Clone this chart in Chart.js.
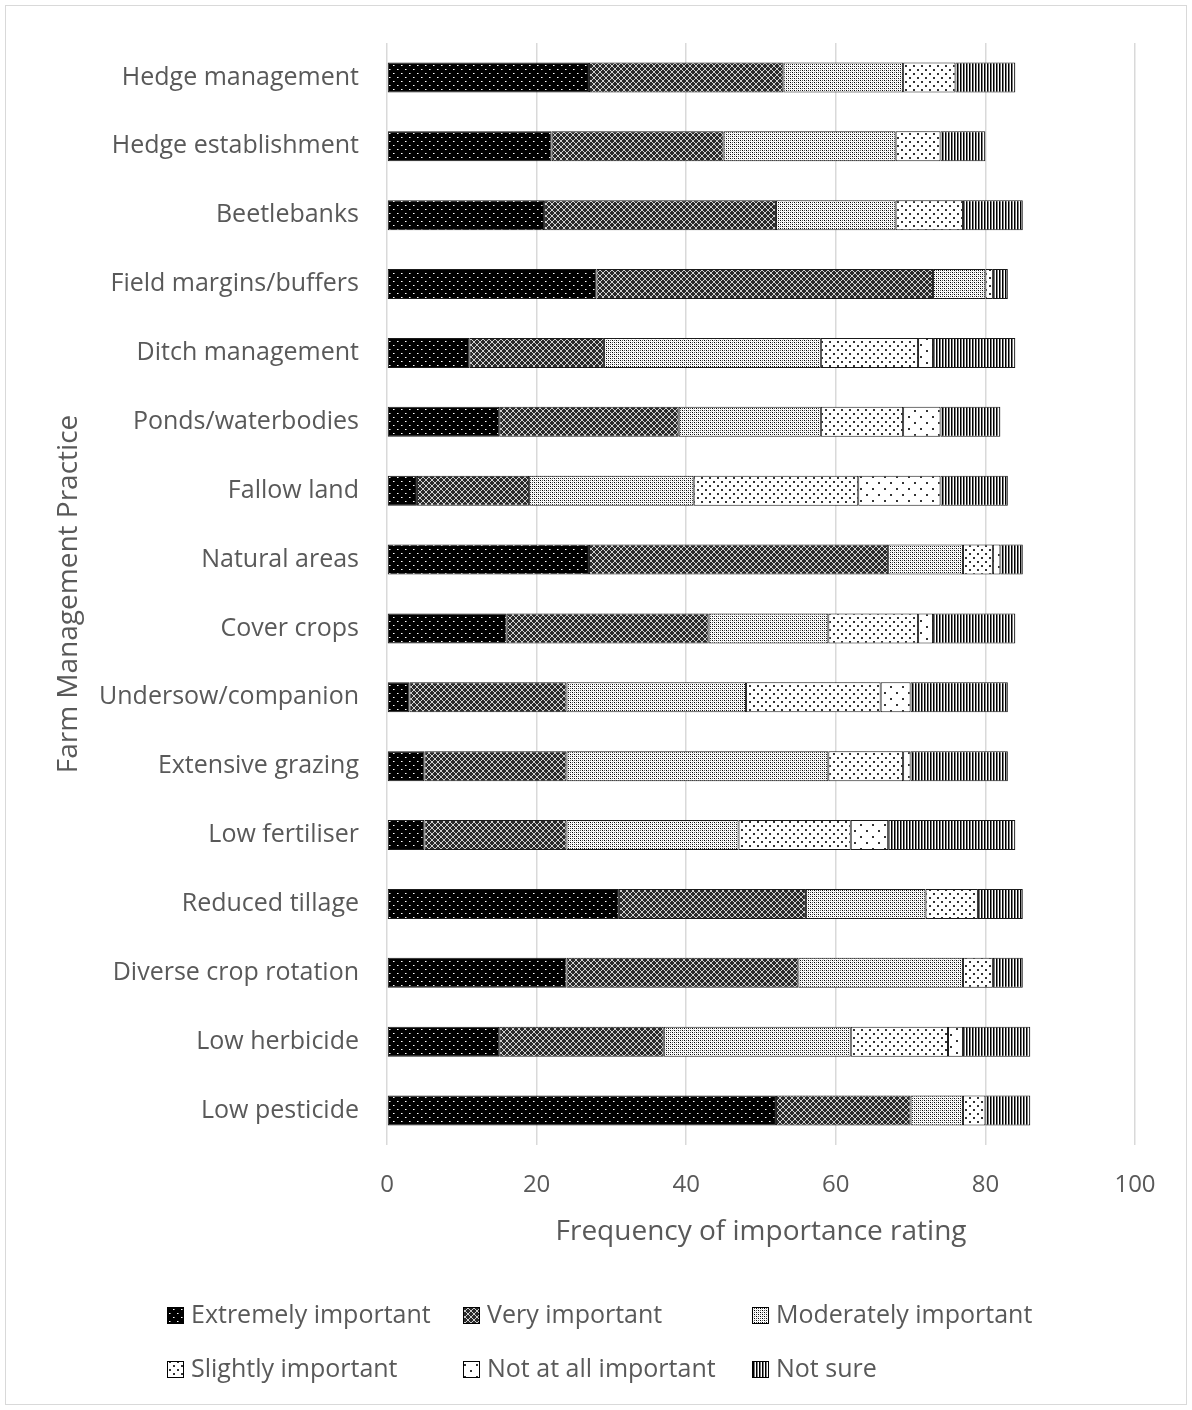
<!DOCTYPE html>
<html>
<head>
<meta charset="utf-8">
<script src="https://cdn.jsdelivr.net/npm/chart.js@4.4.1/dist/chart.umd.min.js"></script>
<style>
  html, body { margin: 0; padding: 0; background: #ffffff; }
  #wrap { position: relative; width: 1192px; height: 1410px; }
  canvas { display: block; }
</style>
</head>
<body>
<div id="wrap"><canvas id="c" width="1192" height="1410"></canvas></div>
<script>
// ---------- data ----------
const categories = ["Hedge management","Hedge establishment","Beetlebanks","Field margins/buffers","Ditch management","Ponds/waterbodies","Fallow land","Natural areas","Cover crops","Undersow/companion","Extensive grazing","Low fertiliser","Reduced tillage","Diverse crop rotation","Low herbicide","Low pesticide"];
const seriesNames = ["Extremely important","Very important","Moderately important","Slightly important","Not at all important","Not sure"];
const extremelyImportant = [27,22,21,28,11,15,4,27,16,3,5,5,31,24,15,52];
const veryImportant      = [26,23,31,45,18,24,15,40,27,21,19,19,25,31,22,18];
const moderatelyImportant= [16,23,16,7,29,19,22,10,16,24,35,23,16,22,25,7];
const slightlyImportant  = [7,6,9,1,13,11,22,4,12,18,10,15,7,4,13,3];
const notAtAllImportant  = [0,0,0,0,2,5,11,1,2,4,1,5,0,0,2,0];
const notSure            = [8,6,8,2,11,8,9,3,11,13,13,17,6,4,9,6];
const xTicks = [0,20,40,60,80,100];
const xTitle = "Frequency of importance rating";
const yTitle = "Farm Management Practice";

// ---------- patterns ----------
function makePattern(size, draw) {
  const c = document.createElement('canvas');
  c.width = size; c.height = size;
  const g = c.getContext('2d');
  draw(g, size);
  return document.getElementById('c').getContext('2d').createPattern(c, 'repeat');
}
const patExtremely = makePattern(8, (g) => {
  g.fillStyle = '#000'; g.fillRect(0,0,8,8);
  g.fillStyle = '#fff'; g.fillRect(1,1,1,1); g.fillRect(5,5,1,1);
  g.fillStyle = '#888'; g.fillRect(2,1,1,1); g.fillRect(6,5,1,1);
});
const patVery = makePattern(6, (g) => {
  g.fillStyle = '#2a2a2a'; g.fillRect(0,0,6,6);
  g.fillStyle = '#d0d0d0';
  for (let i = 0; i < 6; i++) { g.fillRect(i,i,1,1); g.fillRect(5-i,i,1,1); }
});
const patModerately = makePattern(4, (g) => {
  g.fillStyle = '#fff'; g.fillRect(0,0,4,4);
  g.fillStyle = '#000'; g.fillRect(0,0,1,1); g.fillRect(2,2,1,1);
  g.fillStyle = '#555'; g.fillRect(2,0,1,1); g.fillRect(0,2,1,1);
  g.fillStyle = '#ddd'; g.fillRect(1,1,1,1); g.fillRect(3,3,1,1);
});
const patSlightly = makePattern(8, (g) => {
  g.fillStyle = '#fff'; g.fillRect(0,0,8,8);
  g.fillStyle = '#333'; g.fillRect(1,1,2,2); g.fillRect(5,5,2,2);
});
const patNotAtAll = makePattern(12, (g) => {
  g.fillStyle = '#fff'; g.fillRect(0,0,12,12);
  g.fillStyle = '#333'; g.fillRect(2,2,2,2); g.fillRect(8,8,2,2);
});
const patNotSure = makePattern(3, (g) => {
  g.fillStyle = '#fff'; g.fillRect(0,0,3,3);
  g.fillStyle = '#000'; g.fillRect(0,0,1,3);
  g.fillStyle = '#7a7a7a'; g.fillRect(1,0,1,3);
});
const patterns = [patExtremely, patVery, patModerately, patSlightly, patNotAtAll, patNotSure];
const seriesData = [extremelyImportant, veryImportant, moderatelyImportant, slightlyImportant, notAtAllImportant, notSure];

const FONT = "'Open Sans', 'DejaVu Sans', sans-serif";
const TEXT = '#595959';
Chart.defaults.font.family = FONT;
Chart.defaults.color = TEXT;

// ---------- plugins ----------
const frame = {
  id: 'frame',
  beforeDraw(chart) {
    const ctx = chart.ctx;
    ctx.save();
    ctx.fillStyle = '#fff';
    ctx.fillRect(0,0,chart.width,chart.height);
    ctx.strokeStyle = '#d9d9d9';
    ctx.lineWidth = 1;
    ctx.strokeRect(5.5, 5.5, chart.width - 11, chart.height - 11);
    ctx.restore();
  }
};
const gridLegend = {
  id: 'gridLegend',
  afterDraw(chart) {
    const ctx = chart.ctx;
    const cols = [167, 463, 752];
    const rows = [1315, 1369];
    ctx.save();
    ctx.font = '25px ' + FONT;
    ctx.textBaseline = 'middle';
    ctx.textAlign = 'left';
    chart.data.datasets.forEach((ds, i) => {
      const x = cols[i % 3], y = rows[Math.floor(i / 3)];
      ctx.fillStyle = ds.backgroundColor;
      ctx.fillRect(x, y - 8, 17, 17);
      ctx.strokeStyle = '#000';
      ctx.lineWidth = 1;
      ctx.strokeRect(x + 0.5, y - 7.5, 16, 16);
      ctx.fillStyle = TEXT;
      ctx.fillText(ds.label, x + 24, y + 1);
    });
    ctx.restore();
  }
};

new Chart(document.getElementById('c'), {
  type: 'bar',
  data: {
    labels: categories,
    datasets: seriesNames.map((name, i) => ({
      label: name,
      data: seriesData[i],
      backgroundColor: patterns[i],
      borderColor: '#1a1a1a',
      borderWidth: 1,
      borderSkipped: false,
      barPercentage: 0.435,
      categoryPercentage: 1
    }))
  },
  options: {
    indexAxis: 'y',
    responsive: false,
    animation: false,
    events: [],
    layout: { padding: { top: 41, right: 57, bottom: 150, left: 0 } },
    plugins: { legend: { display: false }, tooltip: { enabled: false } },
    scales: {
      x: {
        stacked: true,
        min: 0, max: 100,
        afterBuildTicks: (s) => { s.ticks = xTicks.map(v => ({ value: v })); },
        afterFit: (s) => { s.height = 115; },
        grid: { color: '#d9d9d9', lineWidth: 1.5, drawTicks: false },
        border: { display: false },
        ticks: { padding: 26, font: { size: 24 }, color: TEXT },
        title: { display: true, text: xTitle, font: { size: 28 }, color: TEXT, padding: { top: 0, bottom: 11 } }
      },
      y: {
        stacked: true,
        afterFit: (s) => { s.width = 387; },
        grid: { display: false, drawTicks: false },
        border: { display: false },
        ticks: { padding: 28, font: { size: 25 }, color: TEXT, autoSkip: false },
        title: { display: true, text: yTitle, font: { size: 28 }, color: TEXT, padding: { top: 52, bottom: 0 } }
      }
    }
  },
  plugins: [frame, gridLegend]
});
</script>
</body>
</html>
